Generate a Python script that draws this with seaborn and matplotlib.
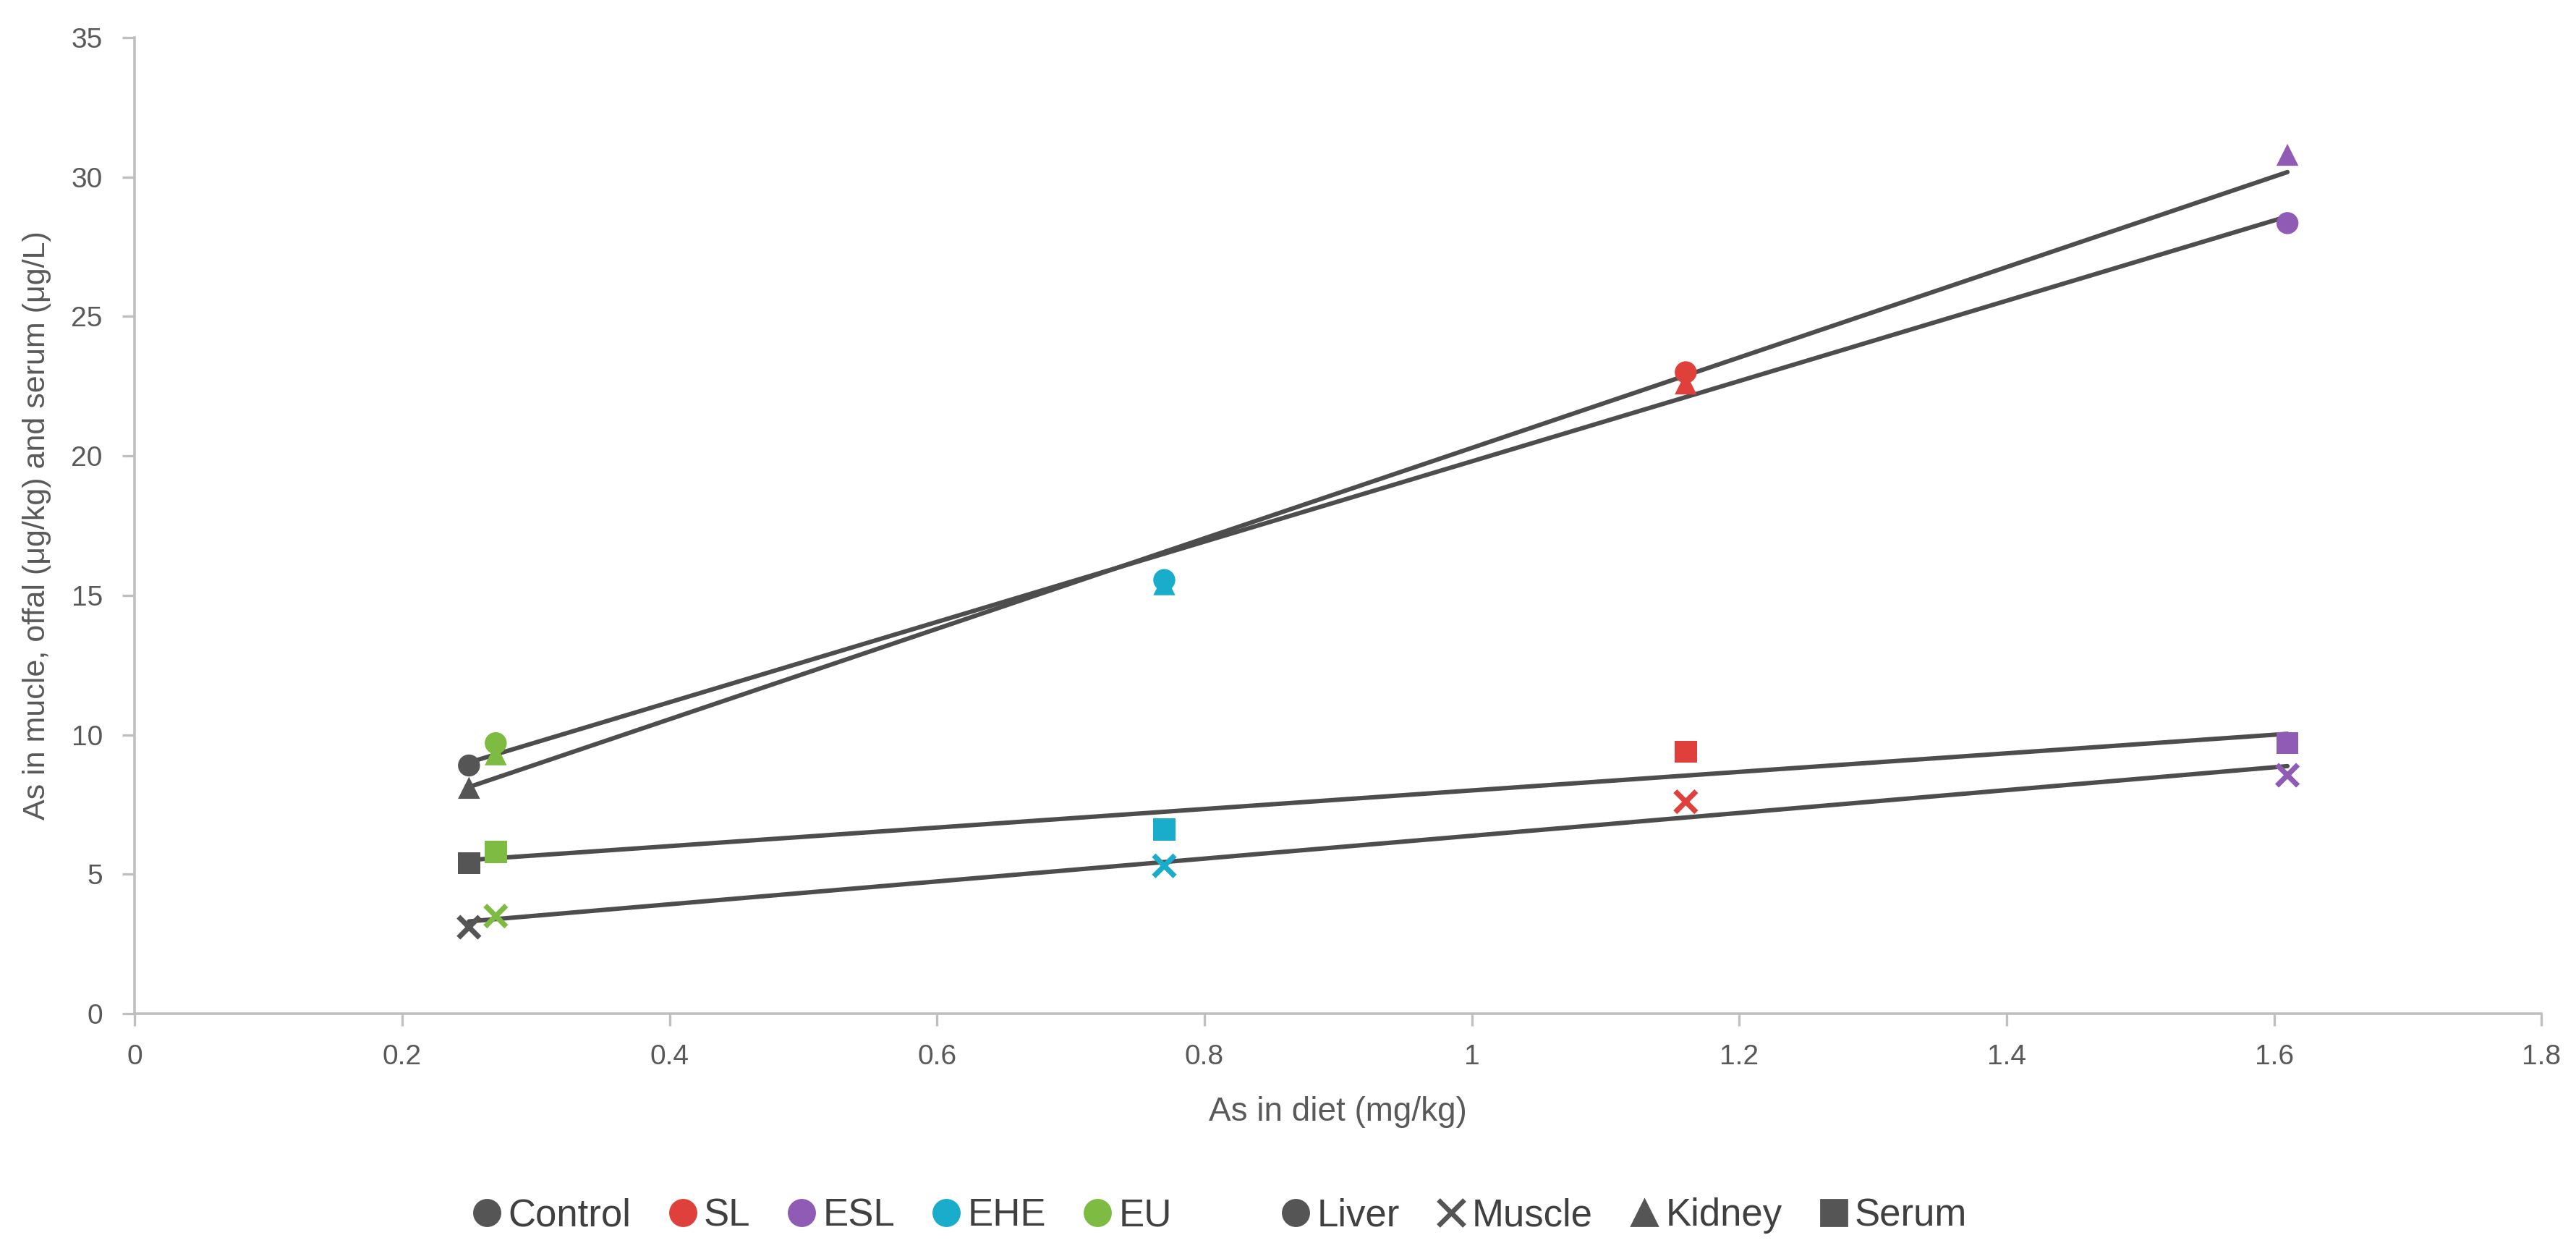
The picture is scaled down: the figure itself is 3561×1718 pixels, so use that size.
import numpy as np
import pandas as pd
import matplotlib
matplotlib.use("Agg")
import matplotlib.pyplot as plt
from matplotlib.lines import Line2D
import seaborn as sns

# ---- data ----
groups = ["Control", "SL", "ESL", "EHE", "EU"]
tissues = ["Liver", "Muscle", "Kidney", "Serum"]
diet_as = [0.25, 1.16, 1.61, 0.77, 0.27]          # As in diet per group
liver = [8.9, 23.0, 28.35, 15.55, 9.7]
muscle = [3.1, 7.6, 8.55, 5.3, 3.5]
kidney = [8.1, 22.6, 30.8, 15.4, 9.3]
serum = [5.4, 9.4, 9.7, 6.6, 5.8]

group_colors = ["#555555", "#E0403C", "#8F5BB5", "#19ADCB", "#7DBB42"]
tissue_markers = ["o", "x", "^", "s"]

rows = []
for tis, vals in zip(tissues, [liver, muscle, kidney, serum]):
    for g, xv, yv in zip(groups, diet_as, vals):
        rows.append({"group": g, "tissue": tis, "diet": xv, "value": yv})
df = pd.DataFrame(rows)

sns.set_theme(style="white")
plt.rcParams["font.family"] = ["Liberation Sans", "DejaVu Sans"]

fig = plt.figure(figsize=(3561 / 200, 1718 / 200), dpi=200)
ax = fig.add_axes([0.0523, 0.1845, 0.9343, 0.7852])

# trend lines
for tis in tissues:
    sub = df[df.tissue == tis]
    sns.regplot(data=sub, x="diet", y="value", ax=ax, scatter=False, ci=None,
                truncate=True, color="#4D4D4D", line_kws={"linewidth": 2.2})

pal = dict(zip(groups, group_colors))
mk = dict(zip(tissues, tissue_markers))
for tis in tissues:
    sub = df[df.tissue == tis]
    if mk[tis] == "x":
        sns.scatterplot(data=sub, x="diet", y="value", hue="group", palette=pal,
                        marker="x", s=110, linewidth=2.6, ax=ax, legend=False, zorder=3)
    else:
        sns.scatterplot(data=sub, x="diet", y="value", hue="group", palette=pal,
                        marker=mk[tis], s=120, linewidth=0, ax=ax, legend=False, zorder=3)

ax.set_xlim(0, 1.8)
ax.set_ylim(0, 35)
ax.set_xticks(np.arange(0, 1.81, 0.2))
ax.set_xticklabels(["0", "0.2", "0.4", "0.6", "0.8", "1", "1.2", "1.4", "1.6", "1.8"])
ax.set_yticks(np.arange(0, 36, 5))

for side in ["top", "right"]:
    ax.spines[side].set_visible(False)
for side in ["left", "bottom"]:
    ax.spines[side].set_color("#BFBFBF")
    ax.spines[side].set_linewidth(1.3)
ax.tick_params(axis="both", colors="#BFBFBF", length=6, width=1.2, direction="out",
               labelcolor="#595959", labelsize=14, left=True, bottom=True)
ax.tick_params(axis="x", pad=9)
ax.tick_params(axis="y", pad=10)

ax.set_xlabel("As in diet (mg/kg)", fontsize=16.5, color="#595959", labelpad=13)
ax.set_ylabel("As in mucle, offal (μg/kg) and serum (μg/L)", fontsize=15.5,
              color="#595959", labelpad=10)

handles = []
labels = []
for g, c in zip(groups, group_colors):
    handles.append(Line2D([], [], marker="o", linestyle="none", color=c, markersize=13))
    labels.append(g)
handles.append(Line2D([], [], linestyle="none"))
labels.append("")
for tis, m in zip(tissues, tissue_markers):
    if m == "x":
        handles.append(Line2D([], [], marker="x", linestyle="none", color="#555555",
                              markersize=13, markeredgewidth=2.4))
    else:
        handles.append(Line2D([], [], marker=m, linestyle="none", color="#555555", markersize=13))
    labels.append(tis)

leg = fig.legend(handles, labels, loc="center", bbox_to_anchor=(0.473, 0.022), ncol=10,
                 frameon=False, fontsize=19, handletextpad=0.1, columnspacing=0.9,
                 handlelength=0.9)
for t in leg.get_texts():
    t.set_color("#404040")

fig.savefig("out.png", dpi=200, facecolor="white")
